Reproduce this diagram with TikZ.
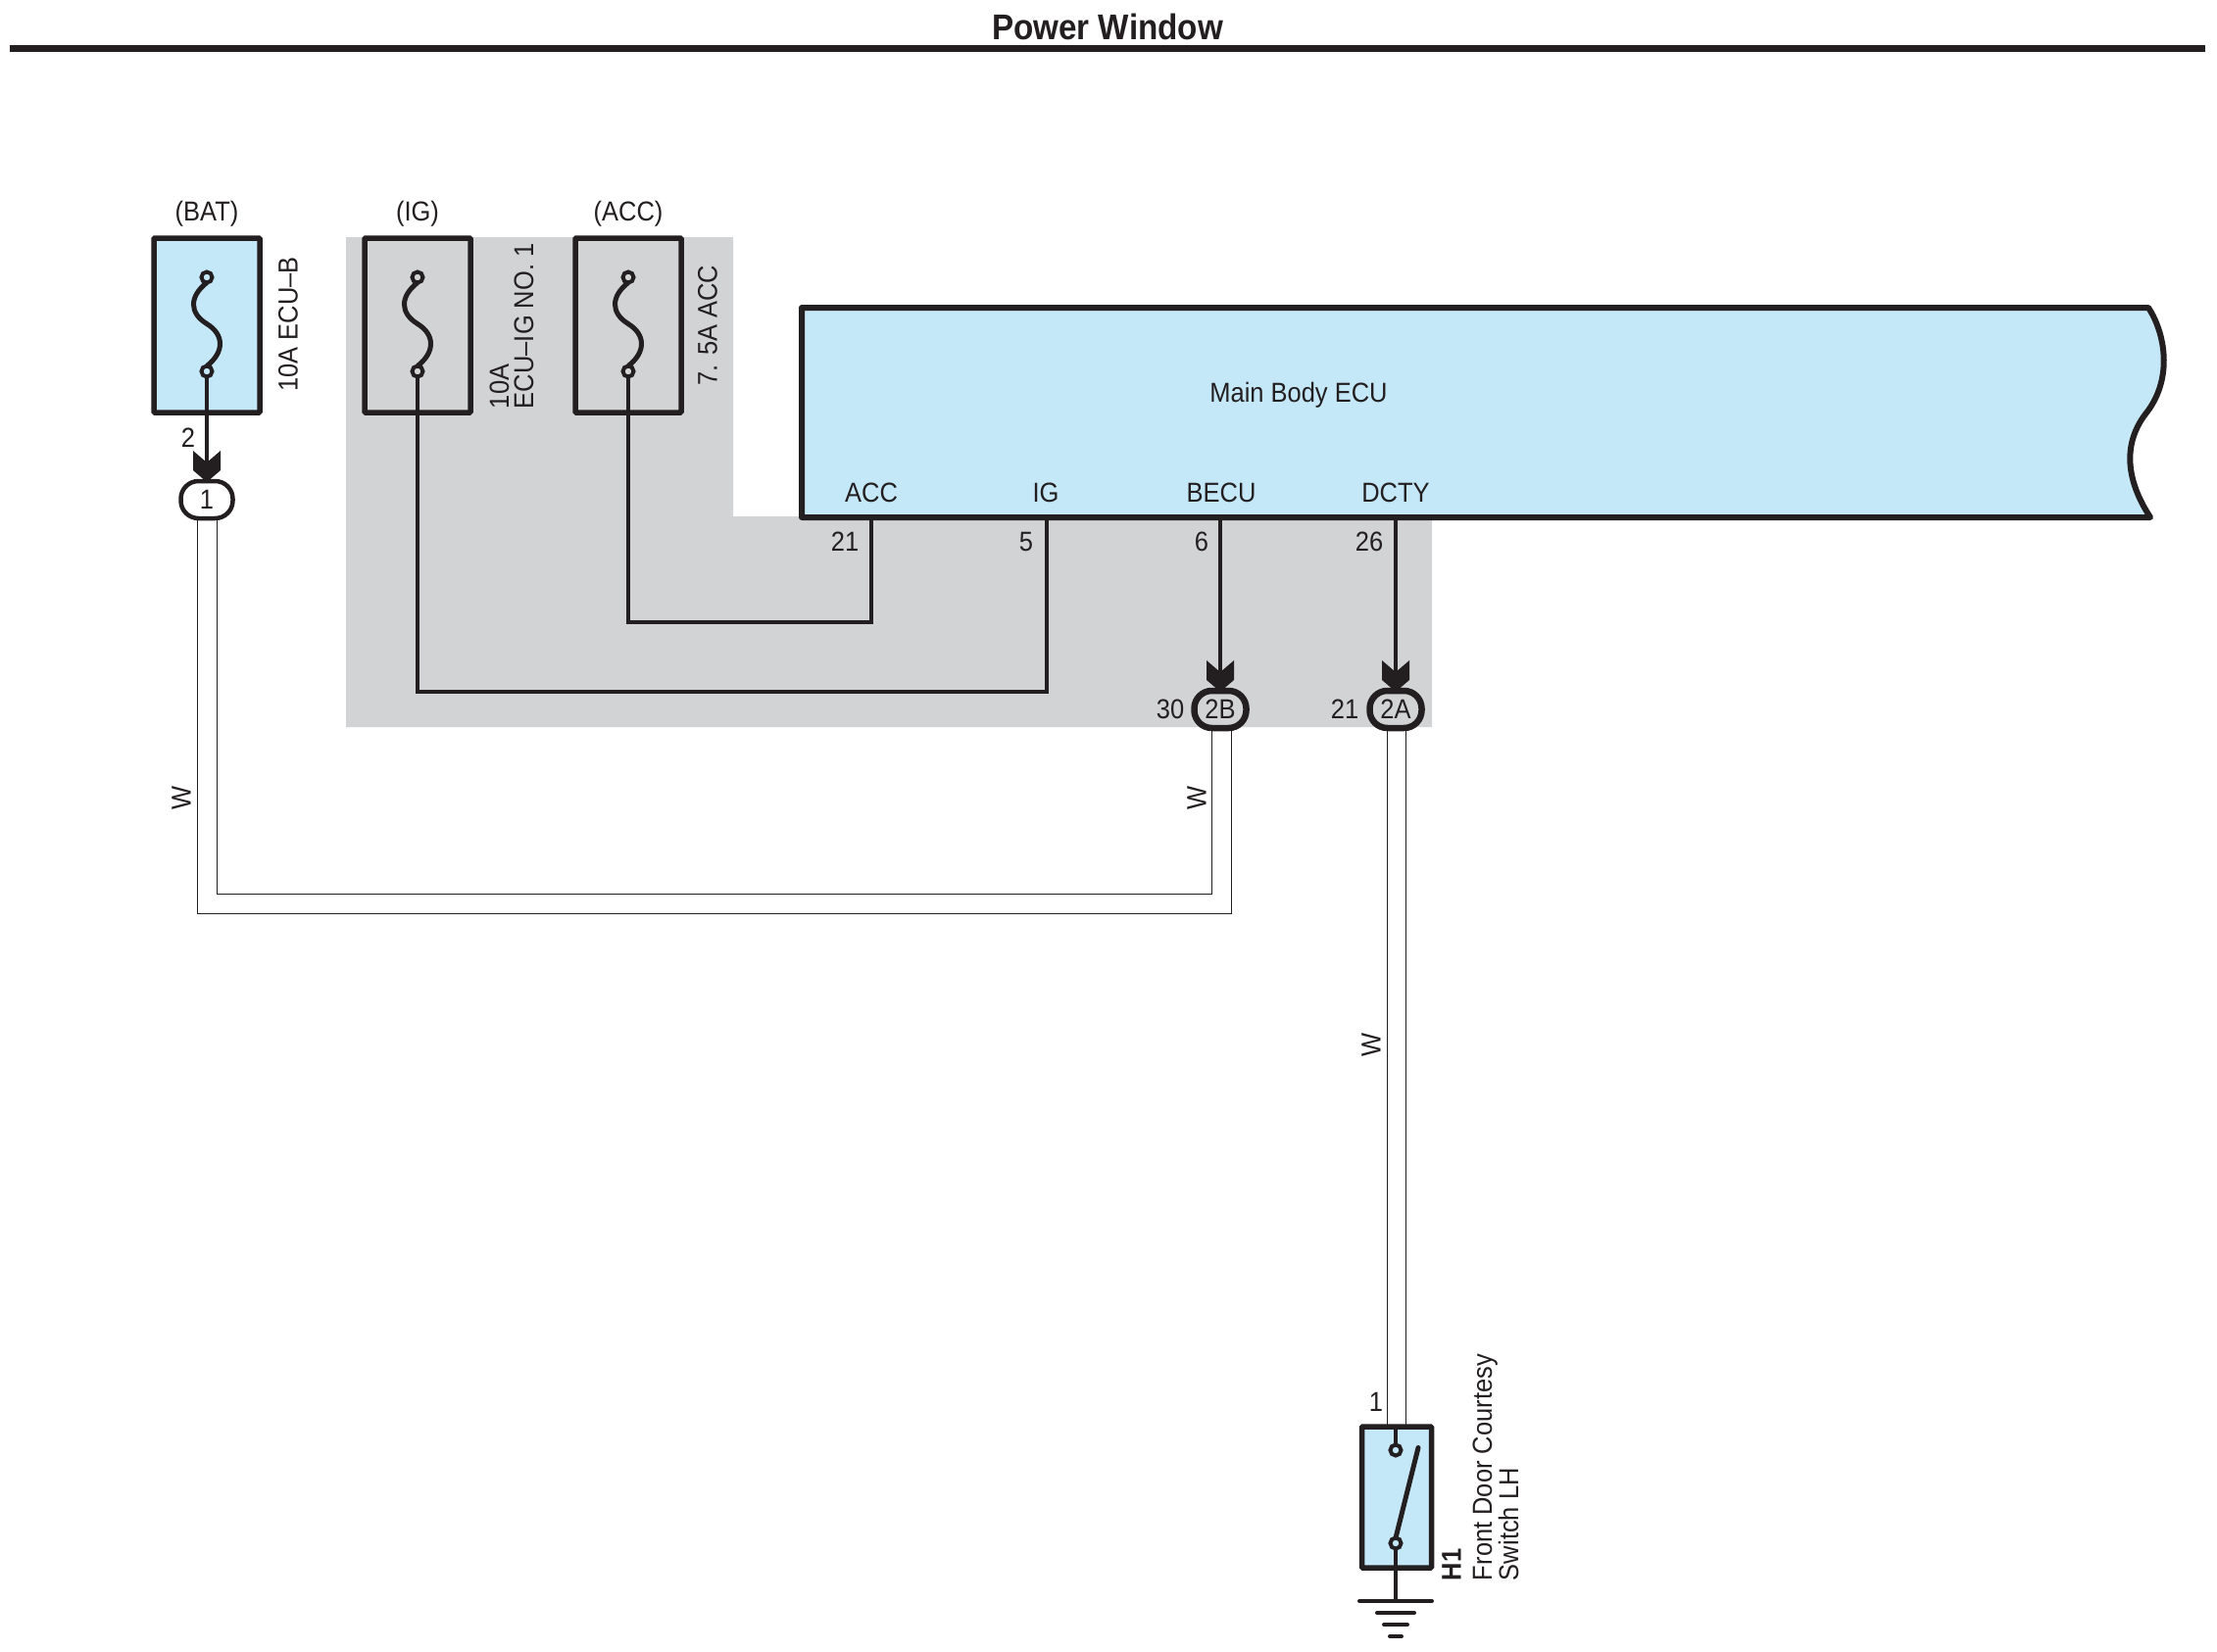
\documentclass[tikz,border=0pt]{standalone}
\usepackage{fontspec}
\setmainfont[FakeStretch=0.91]{Liberation Sans}
\definecolor{ink}{HTML}{231F20}
\definecolor{ecublue}{HTML}{C5E8F8}
\definecolor{panel}{HTML}{D1D3D4}
\tikzset{
  lbl/.style={font=\fontsize{28}{25}\selectfont,text=ink,inner sep=0pt,outer sep=0pt,align=left},
  fusebox/.style={draw=ink,line width=5.5pt,rounded corners=1pt,minimum width=108pt,minimum height=178pt,inner sep=0pt,outer sep=0pt},
  term/.style={circle,draw=ink,line width=4pt,minimum size=11pt,inner sep=0pt,outer sep=0pt},
  wire/.style={draw=ink,line width=4pt},
  thin wire/.style={draw=ink,line width=1pt},
  fuselink/.style={draw=ink,line width=5pt},
  conn/.style={draw=ink,rounded corners=18pt,minimum height=38pt,minimum width=53pt,inner sep=0pt,outer sep=0pt,font=\fontsize{28}{28}\selectfont,text=ink},
  chev/.pic={\fill[ink] (-14,-31) -- (0,-19) -- (14,-31) -- (14,-11) -- (0,1) -- (-14,-11) -- cycle;}
}
\begin{document}
\begin{tikzpicture}[x=1pt,y=-1pt]
\useasboundingbox (0,0) rectangle (2262,1686);
\fill[white] (0,0) rectangle (2262,1686);
% title
\node[font=\fontsize{36.5}{36.5}\selectfont\bfseries,text=ink,inner sep=0pt] (title) at (1130,27) {Power Window};
\coordinate (ruleL) at (10,50);
\coordinate (ruleR) at (2250,50);
\draw[ink,line width=7pt] (ruleL) -- (ruleR);
% panel
\fill[panel] (353,242) -- (748,242) -- (748,527) -- (1461,527) -- (1461,742) -- (353,742) -- cycle;
% ECU
\draw[ink,line width=6pt,fill=ecublue,line join=round] (818,314) -- (2192,314)
  .. controls (2209,340) and (2217,385) .. (2191,420)
  .. controls (2165,452) and (2169,490) .. (2194,528) -- (818,528) -- cycle;
\coordinate (ecuACC) at (889,528);
\coordinate (ecuIG) at (1068,528);
\coordinate (ecuBECU) at (1245,528);
\coordinate (ecuDCTY) at (1424,528);
\node[lbl] (ecuname) at (1325,403) {Main Body ECU};
\node[lbl] (lACC) at (889,503) {ACC};
\node[lbl] (lIG) at (1067,503) {IG};
\node[lbl] (lBECU) at (1246,503) {BECU};
\node[lbl] (lDCTY) at (1424,503) {DCTY};
\node[lbl] (p21) at (862,553) {21};
\node[lbl] (p5) at (1047,553) {5};
\node[lbl] (p6) at (1226,553) {6};
\node[lbl] (p26) at (1397,553) {26};
% fuse boxes
\node[fusebox,fill=ecublue] (batbox) at (211,332) {};
\node[fusebox] (igbox) at (426,332) {};
\node[fusebox] (accbox) at (641,332) {};
\node[lbl] (bat) at (211,218) {(BAT)};
\node[lbl] (ig) at (426,218) {(IG)};
\node[lbl] (acc) at (641,218) {(ACC)};
\node[term,fill=ecublue] (batT) at (211,283) {};
\node[term,fill=ecublue] (batB) at (211,379) {};
\node[term,fill=panel] (igT) at (426,283) {};
\node[term,fill=panel] (igB) at (426,379) {};
\node[term,fill=panel] (accT) at (641,283) {};
\node[term,fill=panel] (accB) at (641,379) {};
\foreach \n in {bat,ig,acc}{
  \draw[fuselink] (\n T.south) .. controls +(-18,14) and +(-18,-11) .. ++(0,42)
     .. controls +(18,11) and +(18,-14) .. (\n B.north);
}
\node[lbl,rotate=90] (f1) at (294,331) {10A ECU–B};
\node[lbl,rotate=90,anchor=west] (f2) at (522,417) {10A\\ECU–IG NO. 1};
\node[lbl,rotate=90] (f3) at (722,332) {7. 5A ACC};
% connectors
\node[conn,line width=4.5pt,fill=white] (c1) at (211,510) {1};
\node[conn,line width=6.5pt,fill=panel] (c2B) at (1245,724) {2B};
\node[conn,line width=6.5pt,fill=panel] (c2A) at (1424,724) {2A};
\node[lbl] (n2) at (192,447) {2};
\node[lbl] (n30) at (1194,724) {30};
\node[lbl] (n21) at (1372,724) {21};
% wires
\draw[wire] (batB.south) -- (c1.north);
\draw[wire] (igB.south) |- (ecuIG |- 0,706) -- (ecuIG);
\draw[wire] (accB.south) |- (ecuACC |- 0,635) -- (ecuACC);
\draw[wire] (ecuBECU) -- (c2B.north);
\draw[wire] (ecuDCTY) -- (c2A.north);
\pic at (c1.north) {chev};
\pic at (c2B.north) {chev};
\pic at (c2A.north) {chev};
% double white wires
\draw[thin wire] ([xshift=-10pt]c1.south) -- ++(0,403) -| ([xshift=11pt]c2B.south);
\draw[thin wire] ([xshift=10pt]c1.south) -- ++(0,383) -| ([xshift=-9pt]c2B.south);
\node[lbl,rotate=90] (w1) at (185,814) {W};
\node[lbl,rotate=90] (w2) at (1221,814) {W};
\node[lbl,rotate=90] (w3) at (1399,1066) {W};
% switch
\node[fusebox,fill=ecublue,minimum width=71pt,minimum height=144pt] (swbox) at (1425,1528) {};
\coordinate (swL) at (1415,1456);
\coordinate (swR) at (1434,1456);
\draw[thin wire] (swL |- c2A.south) -- (swL);
\draw[thin wire] (swR |- c2A.south) -- (swR);
\node[term,fill=ecublue] (swT) at (1424,1480) {};
\node[term,fill=ecublue] (swB) at (1424,1575) {};
\draw[wire] (swT |- swbox.north) -- (swT);
\draw[ink,line width=5pt,line cap=round] (swB.north) -- ++(23,-92);
\coordinate (gnd) at (1424,1634);
\draw[wire] (swB.south) -- (gnd);
\draw[ink,line width=4pt,line cap=round] ([xshift=-37pt]gnd) -- ([xshift=37pt]gnd);
\draw[ink,line width=4pt,line cap=round] ([shift={(-19,12)}]gnd) -- ([shift={(19,12)}]gnd);
\draw[ink,line width=4pt,line cap=round] ([shift={(-12,24)}]gnd) -- ([shift={(12,24)}]gnd);
\draw[ink,line width=4pt,line cap=round] ([shift={(-6,36)}]gnd) -- ([shift={(6,36)}]gnd);
\node[lbl] (s1) at (1404,1431) {1};
\node[lbl,rotate=90,anchor=west,font=\fontsize{28}{25}\selectfont\bfseries] (h1) at (1481,1613) {H1};
\node[lbl,rotate=90,anchor=west] (swname) at (1526,1613) {Front Door Courtesy\\Switch LH};
\end{tikzpicture}
\end{document}
